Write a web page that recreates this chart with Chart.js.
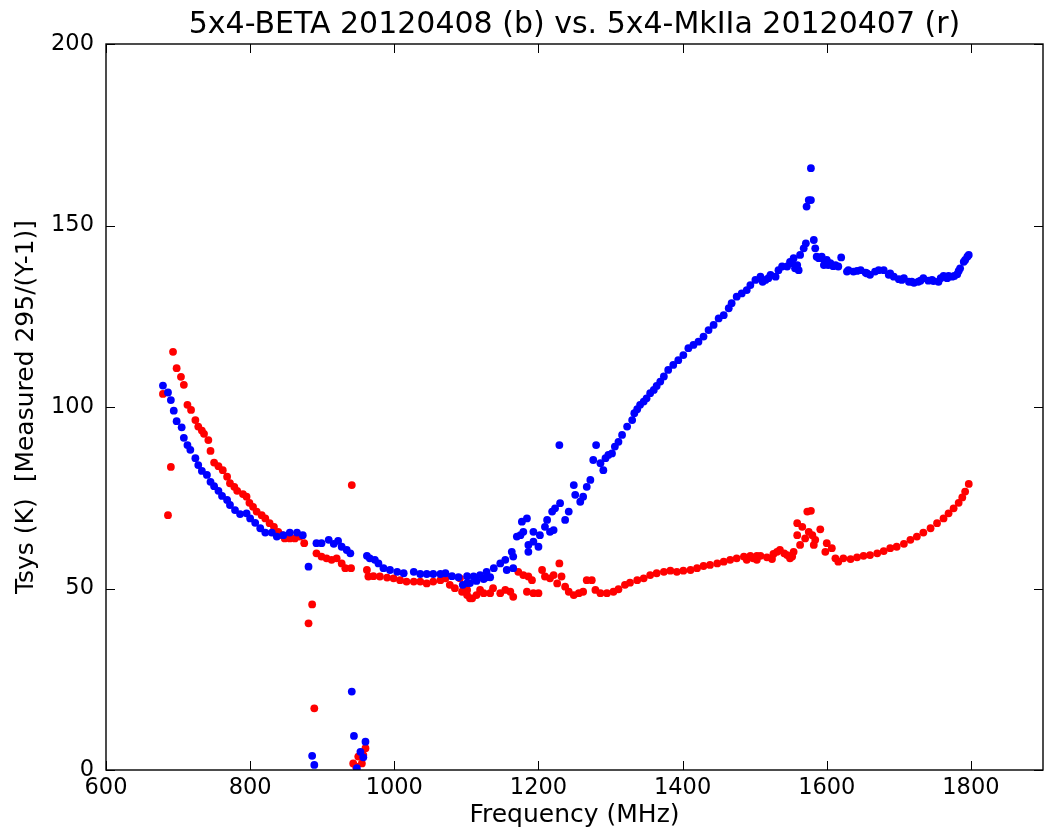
<!DOCTYPE html>
<html>
<head>
<meta charset="utf-8">
<script src="https://cdn.jsdelivr.net/npm/chart.js@4"></script>
<style>
  html, body { margin: 0; padding: 0; background: #fff; }
  #wrap { width: 1047px; height: 831px; }
</style>
</head>
<body>
<div id="wrap"><canvas id="tsysChart"></canvas></div>
<script>
// Tsys vs frequency, two receivers.
// blue = 5x4-BETA 20120408, red = 5x4-MkIIa 20120407

var blueFreq = [679,686,690,694,698,705,708,713,717,724,728,733,740,745,750,756,761,768,772,779,
  786,795,800,807,814,821,830,837,846,855,865,873,881,886,889,892,899,909,916,922,
  927,934,939,941,944,948,953,957,960,962,966,973,978,985,994,1004,1013,1027,1036,1045,
  1054,1064,1071,1080,1089,1095,1101,1101,1105,1110,1114,1119,1124,1128,1128,1133,1138,1147,1154,1156,
  1163,1165,1165,1170,1175,1177,1179,1184,1186,1186,1193,1193,1200,1202,1209,1212,1216,1219,1221,1223,
  1229,1230,1237,1242,1249,1251,1258,1262,1267,1272,1276,1280,1286,1290,1293,1297,1302,1306,1311,1316,
  1323,1330,1333,1337,1341,1346,1350,1355,1360,1364,1369,1374,1380,1387,1394,1401,1408,1415,1422,1429,
  1436,1443,1450,1457,1464,1468,1475,1482,1489,1494,1501,1508,1515,1522,1529,1533,1538,1545,1549,1554,
  1559,1561,1563,1568,1571,1572,1575,1578,1578,1582,1584,1589,1593,1596,1600,1605,1612,1616,1620,1628,
  1637,1647,1654,1660,1667,1679,1686,1693,1700,1707,1714,1721,1727,1734,1741,1748,1755,1762,1769,1774,
  1781,1785,1790,1795,1797,
  1511,1519,1552,1556,1586,1591,1598,1602,1609,1630,1642,1656,1672,1688,1704,1718,1730,1746,1758,1767,
  1777,1783,1792];
var blueTsys = [105.9,104.0,101.9,99.0,96.1,94.4,91.5,89.5,88.2,85.9,84.0,82.4,81.3,79.4,78.2,76.9,75.5,74.4,73.0,71.6,
  70.5,70.7,69.3,68.1,66.6,65.4,65.4,64.3,64.7,65.4,65.4,64.7,56.0,3.9,1.4,62.5,62.5,63.4,62.3,63.1,
  61.5,60.6,59.7,21.6,9.4,0.5,5.0,3.5,7.8,59.0,58.3,57.9,56.9,55.6,55.1,54.6,54.2,54.6,54.0,54.0,
  54.0,54.0,54.2,53.4,53.1,51.0,53.4,51.5,51.5,53.3,52.1,53.7,52.6,54.6,53.1,53.1,55.6,56.9,57.9,55.1,
  60.1,58.8,55.6,64.3,64.7,68.4,65.6,69.3,62.0,60.1,62.9,65.6,61.5,64.7,67.0,68.9,65.6,71.2,66.1,72.1,
  89.5,73.5,68.9,71.2,78.5,75.8,73.9,75.3,78.0,79.9,85.4,89.5,84.5,82.6,85.9,86.8,87.2,89.1,90.4,92.3,
  94.6,96.4,98.3,99.4,100.6,101.5,102.4,103.8,104.7,105.8,107.0,108.4,110.2,111.6,112.9,114.3,116.2,117.1,118.0,119.4,
  121.2,122.6,124.4,125.3,127.2,128.6,130.4,131.3,132.2,133.6,135.0,135.9,135.0,136.4,135.9,137.7,138.7,138.7,140.0,141.0,
  139.1,137.7,141.9,143.7,145.1,155.2,157.0,157.0,165.8,146.0,143.7,141.0,141.4,139.1,140.5,139.6,139.1,138.7,141.2,137.3,
  137.3,137.7,137.0,136.4,137.3,137.7,136.4,135.9,135.2,135.5,134.5,134.2,134.5,135.5,134.8,134.7,134.5,136.1,136.1,135.9,
  136.6,138.2,140.0,141.4,141.9,
  134.5,135.5,139.6,138.2,141.4,141.0,140.0,139.1,138.8,137.7,137.5,136.8,137.7,136.8,135.0,134.5,134.8,135.0,135.5,135.5,
  136.1,137.5,140.5];

var redFreq = [679,686,690,693,698,704,708,713,718,724,728,733,736,742,745,750,756,762,768,772,
  778,782,790,795,799,804,809,816,821,827,833,839,844,848,855,862,869,875,881,886,
  889,892,899,906,913,920,927,932,940,941,943,947,950,955,957,960,962,964,971,980,
  990,999,1008,1017,1027,1036,1045,1054,1064,1071,1077,1084,1091,1094,1101,1108,1114,1124,1133,1147,
  1161,1165,1172,1179,1184,1186,1191,1193,1200,1205,1209,1216,1221,1226,1229,1232,1237,1242,1249,1256,
  1262,1267,1274,1279,1286,1295,1304,1311,1320,1327,1337,1346,1355,1364,1374,1383,1392,1401,1411,1420,
  1429,1438,1448,1457,1466,1475,1485,1494,1498,1503,1508,1517,1524,1531,1535,1545,1552,1554,1559,1559,
  1563,1566,1570,1573,1575,1578,1580,1582,1584,1591,1598,1600,1607,1612,1616,1623,1633,1642,1651,1660,
  1670,1679,1688,1697,1707,1716,1725,1734,1744,1753,1762,1769,1776,1783,1788,1792,1797,
  1101,1105,1119,1137,1154,1489,1503,1526,1541,1549];
var redTsys = [103.6,70.2,83.5,115.2,110.7,108.3,106.1,100.6,99.2,96.4,94.6,93.5,92.6,90.9,87.9,84.7,83.7,82.6,80.8,79.0,
  78.0,76.9,76.0,75.3,73.6,72.5,71.2,70.2,69.3,68.0,67.0,65.6,64.7,63.8,63.8,63.8,64.3,62.5,40.4,45.6,
  17.0,59.7,58.8,58.3,57.9,58.3,56.9,55.6,55.6,78.5,1.8,0.9,3.7,1.8,4.1,6.0,55.1,53.3,53.4,53.3,
  53.0,52.8,52.3,51.9,51.9,51.9,51.4,51.9,52.3,52.8,51.0,50.1,52.8,49.1,48.2,47.3,48.2,48.7,48.7,48.7,
  49.1,47.7,54.6,53.7,49.1,53.3,52.3,48.7,48.7,55.1,53.3,52.8,53.7,51.4,56.9,53.3,50.5,49.1,48.2,48.7,
  49.1,52.3,52.3,49.6,48.7,48.7,49.1,49.8,51.0,51.6,52.3,52.8,53.7,54.2,54.6,54.9,54.6,54.9,55.1,55.6,
  56.2,56.5,56.9,57.4,57.9,58.3,58.8,59.0,58.3,57.9,59.0,58.6,58.1,60.1,60.6,59.2,58.8,60.1,68.0,64.7,
  62.0,67.0,63.8,71.2,65.6,71.4,64.7,62.0,63.4,66.3,60.1,62.5,61.1,58.3,57.4,58.3,58.1,58.6,59.0,59.2,
  59.7,60.3,61.1,61.5,62.3,63.4,64.3,65.4,66.6,68.0,69.3,70.7,72.1,73.6,75.1,76.7,78.8,
  49.6,47.3,49.6,50.1,49.6,57.9,59.0,59.5,59.7,58.3];

var xTicks = [600, 800, 1000, 1200, 1400, 1600, 1800];
var yTicks = [0, 50, 100, 150, 200];

function pairs(xs, ys) {
  return xs.map(function(x, i) { return { x: x, y: ys[i] }; });
}

// matplotlib style: closed frame, ticks pointing inward on all four sides
var frameTicks = {
  id: 'frameTicks',
  afterDraw: function(chart) {
    var ctx = chart.ctx, a = chart.chartArea;
    var xs = chart.scales.x, ys = chart.scales.y;
    var len = 9;
    ctx.save();
    ctx.strokeStyle = '#000';
    ctx.lineWidth = 1;
    ctx.beginPath();
    xs.ticks.forEach(function(t) {
      var px = Math.round(xs.getPixelForValue(t.value)) + 0.5;
      ctx.moveTo(px, a.bottom); ctx.lineTo(px, a.bottom - len);
      ctx.moveTo(px, a.top); ctx.lineTo(px, a.top + len);
    });
    ys.ticks.forEach(function(t) {
      var py = Math.round(ys.getPixelForValue(t.value)) + 0.5;
      ctx.moveTo(a.left, py); ctx.lineTo(a.left + len, py);
      ctx.moveTo(a.right, py); ctx.lineTo(a.right - len, py);
    });
    ctx.stroke();
    ctx.lineWidth = 1.4;
    ctx.strokeRect(a.left, a.top, a.right - a.left, a.bottom - a.top);
    ctx.restore();
  }
};

var font = "'DejaVu Sans', sans-serif";
var plain = function(v) { return String(v); };

new Chart(document.getElementById('tsysChart'), {
  type: 'scatter',
  data: {
    datasets: [{
      label: '5x4-BETA 20120408',
      data: pairs(blueFreq, blueTsys),
      backgroundColor: '#0000ff',
      borderWidth: 0,
      pointRadius: 3.9
    }, {
      label: '5x4-MkIIa 20120407',
      data: pairs(redFreq, redTsys),
      backgroundColor: '#ff0000',
      borderWidth: 0,
      pointRadius: 3.9
    }]
  },
  options: {
    responsive: true,
    maintainAspectRatio: false,
    animation: false,
    layout: { padding: { left: 0, right: 4, top: 0, bottom: 0 } },
    plugins: {
      legend: { display: false },
      tooltip: { enabled: false },
      title: {
        display: true,
        fullSize: false,
        text: '5x4-BETA 20120408 (b) vs. 5x4-MkIIa 20120407 (r)',
        color: '#000',
        font: { family: font, size: 30, weight: 'normal' },
        padding: { top: 7, bottom: 1 }
      }
    },
    scales: {
      x: {
        type: 'linear',
        min: 600, max: 1900,
        afterFit: function(s) { s.height = 61; },
        afterBuildTicks: function(s) { s.ticks = xTicks.map(function(v) { return { value: v }; }); },
        grid: { display: false, drawTicks: false },
        border: { display: false },
        ticks: { color: '#000', padding: 5, font: { family: font, size: 22.5 }, maxRotation: 0, callback: plain },
        title: {
          display: true, text: 'Frequency (MHz)', color: '#000',
          font: { family: font, size: 25 }, padding: { top: 0, bottom: 1 }
        }
      },
      y: {
        type: 'linear',
        min: 0, max: 200,
        afterFit: function(s) { s.width = 106; },
        afterBuildTicks: function(s) { s.ticks = yTicks.map(function(v) { return { value: v }; }); },
        grid: { display: false, drawTicks: false },
        border: { display: false },
        ticks: { color: '#000', padding: 12, font: { family: font, size: 22.5 }, callback: plain },
        title: {
          display: true, text: 'Tsys (K)  [Measured 295/(Y-1)]', color: '#000',
          font: { family: font, size: 25 }, padding: { top: 11, bottom: 0 }
        }
      }
    }
  },
  plugins: [frameTicks]
});
</script>
</body>
</html>
